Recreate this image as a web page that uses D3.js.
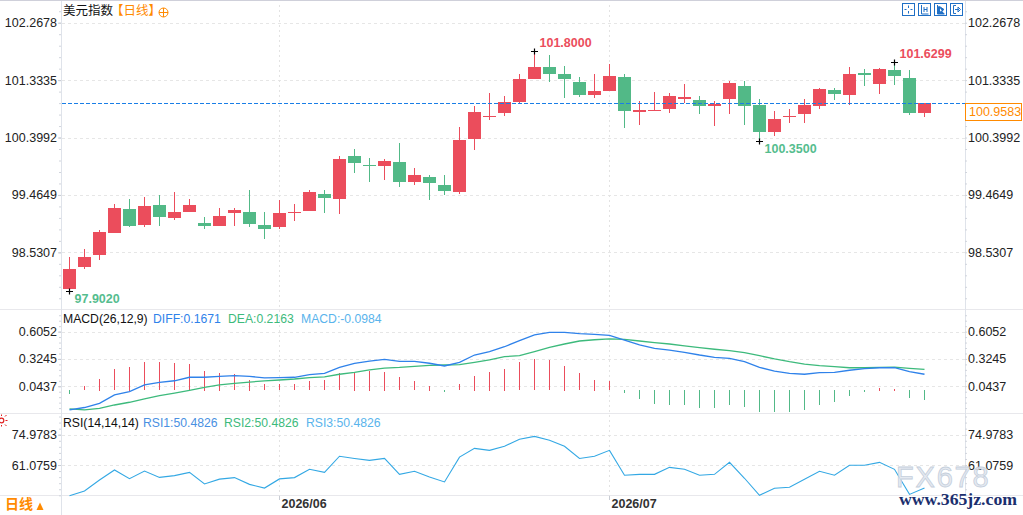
<!DOCTYPE html>
<html><head><meta charset="utf-8">
<script src="https://cdn.jsdelivr.net/npm/d3@7"></script>
<style>body{margin:0;background:#fff;overflow:hidden}svg{display:block}</style>
</head><body>
<svg id="c" width="1023" height="515"></svg>
<script>
// ---------------- data ----------------
const dates = [
"2026-05-12","2026-05-13","2026-05-14","2026-05-15","2026-05-18","2026-05-19","2026-05-20","2026-05-21","2026-05-22","2026-05-25","2026-05-26","2026-05-27","2026-05-28","2026-05-29",
"2026-06-01","2026-06-02","2026-06-03","2026-06-04","2026-06-05","2026-06-08","2026-06-09","2026-06-10","2026-06-11","2026-06-12","2026-06-15","2026-06-16","2026-06-17","2026-06-18","2026-06-19","2026-06-22","2026-06-23","2026-06-24","2026-06-25","2026-06-26","2026-06-29","2026-06-30",
"2026-07-01","2026-07-02","2026-07-03","2026-07-06","2026-07-07","2026-07-08","2026-07-09","2026-07-10","2026-07-13","2026-07-14","2026-07-15","2026-07-16","2026-07-17","2026-07-20","2026-07-21","2026-07-22","2026-07-23","2026-07-24","2026-07-27","2026-07-28","2026-07-29","2026-07-30"];
const open = [97.93,98.29,98.48,98.85,99.236,98.975,99.301,99.09,99.187,99.008,98.959,99.171,99.187,98.975,98.943,99.17,99.203,99.48,99.399,100.099,99.955,99.935,100.001,99.675,99.757,99.626,99.513,100.375,100.733,100.798,100.977,101.352,101.547,101.433,101.303,101.091,101.156,101.384,100.815,100.831,100.863,101.026,101.01,100.912,101.026,101.238,100.929,100.489,100.733,100.782,100.912,101.173,101.091,101.449,101.27,101.498,101.368,100.798];
const high = [98.455,98.585,98.894,99.317,99.399,99.431,99.464,99.513,99.399,99.106,99.252,99.252,99.545,99.187,99.383,99.317,99.545,99.545,100.099,100.212,100.066,100.05,100.31,99.903,99.789,99.789,100.571,100.912,101.124,101.075,101.433,101.8,101.742,101.563,101.384,101.433,101.596,101.433,100.994,101.14,101.124,101.27,101.075,100.994,101.319,101.319,101.026,100.831,100.863,101.026,101.205,101.205,101.547,101.514,101.53,101.6299,101.498,100.965];
const low = [97.902,98.26,98.41,98.85,98.943,98.943,98.959,99.057,99.187,98.91,98.959,98.959,98.943,98.748,98.91,99.041,99.203,99.171,99.155,99.822,99.675,99.708,99.594,99.626,99.383,99.464,99.48,100.196,100.684,100.75,100.961,101.352,101.303,101.043,101.059,101.043,101.156,100.554,100.603,100.831,100.798,100.961,100.782,100.587,100.782,100.603,100.35,100.424,100.635,100.635,100.863,101.01,100.929,101.238,101.108,101.254,100.766,100.733];
const close = [98.26,98.455,98.86,99.247,98.959,99.285,99.106,99.187,99.301,98.959,99.122,99.22,98.992,98.91,99.171,99.187,99.513,99.415,100.05,99.984,99.95,100.017,99.675,99.789,99.659,99.528,100.359,100.815,100.75,100.977,101.352,101.547,101.433,101.352,101.091,101.156,101.4,100.831,100.847,100.847,101.075,101.059,100.912,100.945,101.287,100.912,100.489,100.7,100.75,100.929,101.189,101.108,101.433,101.417,101.514,101.4,100.798,100.9583];
const diff = [-0.2,-0.175,-0.132,-0.046,-0.012,0.057,0.084,0.10,0.136,0.136,0.146,0.152,0.146,0.129,0.132,0.136,0.163,0.177,0.238,0.28,0.303,0.32,0.30,0.30,0.28,0.252,0.29,0.365,0.40,0.45,0.512,0.571,0.598,0.598,0.584,0.578,0.567,0.519,0.468,0.434,0.416,0.393,0.365,0.341,0.331,0.296,0.238,0.20,0.177,0.167,0.183,0.187,0.208,0.224,0.234,0.234,0.193,0.1671];
const dea = [-0.19,-0.2,-0.183,-0.149,-0.121,-0.087,-0.053,-0.026,0.002,0.033,0.057,0.074,0.087,0.098,0.108,0.118,0.132,0.139,0.167,0.187,0.211,0.231,0.238,0.249,0.259,0.262,0.265,0.29,0.314,0.348,0.358,0.40,0.444,0.478,0.509,0.522,0.53,0.526,0.509,0.492,0.478,0.458,0.44,0.424,0.41,0.389,0.358,0.324,0.296,0.272,0.255,0.245,0.234,0.234,0.238,0.241,0.228,0.2163];
const macdHist = [-0.04,0.044,0.12,0.22,0.245,0.29,0.29,0.28,0.27,0.205,0.185,0.165,0.113,0.062,0.062,0.062,0.093,0.103,0.175,0.195,0.205,0.195,0.134,0.093,0.051,-0.02,0.062,0.154,0.195,0.226,0.29,0.32,0.31,0.257,0.175,0.113,0.093,-0.03,-0.09,-0.14,-0.15,-0.15,-0.18,-0.19,-0.15,-0.17,-0.23,-0.23,-0.23,-0.21,-0.15,-0.12,-0.06,-0.02,0.03,0.02,-0.08,-0.0984];
const rsi = [47.0,49.2,54.2,58.8,54.8,58.3,55.4,56.2,57.7,52.4,54.6,55.3,52.2,50.5,54.7,55.3,59.1,57.7,65.1,64.1,63.2,64.1,56.8,58.2,55.6,53.3,64.7,68.7,67.8,69.7,72.9,74.2,72.4,69.7,64.1,65.1,67.8,56.4,56.8,56.8,60.0,59.1,56.4,56.8,62.3,55.0,47.2,50.4,50.9,54.5,58.2,56.4,61.0,61.0,62.3,59.1,47.6,50.4826];
const priceTicks = [98.5307,99.4649,100.3992,101.3335,102.2678];
const macdTicks = [0.0437,0.3245,0.6052];
const rsiTicks = [61.0759,74.9783];
const monthTicks = ["2026-06-01","2026-07-01"];
const monthLabels = ["2026/06","2026/07"];
const lastPrice = 100.9583;
const annots = [{idx:31,kind:"high"},{idx:55,kind:"high"},{idx:46,kind:"low"},{idx:0,kind:"low"}];
const titleName = "美元指数", titlePeriod = "【日线】";
const macdTitle = "MACD(26,12,9)";
const macdLegend = ["DIFF:0.1671","DEA:0.2163","MACD:-0.0984"];
const rsiTitle = "RSI(14,14,14)";
const rsiLegend = ["RSI1:50.4826","RSI2:50.4826","RSI3:50.4826"];

// ---------------- style ----------------
const RED = "#eb4d5c", GREEN = "#52b987";
const BLUE = "#2f82ea", DEAC = "#3dba7c", LBLUE = "#5ab4ec", RSIC = "#33a8e4";
const ORANGE = "#ff8a00";
const NUMF = "'Liberation Sans', Arial, sans-serif";
const CJKF = "'Noto Sans CJK SC', sans-serif";
const AXL = 61, AXR = 966;

const svg = d3.select("#c");
const fmt = d3.format(".4f");

const x = d3.scaleBand().domain(dates).range([62, 932]).paddingInner(2/15).paddingOuter(1/15);
const cx = d => x(d) + x.bandwidth()/2;
const yP = d3.scaleLinear().domain([97.674, 102.556]).range([305, 5]);
const yM = d3.scaleLinear().domain([-0.2314, 0.8071]).range([413, 312]);
const yR = d3.scaleLinear().domain([46.86, 84.48]).range([496, 414]);
const px = v => Math.round(v) + 0.5;

// top border
svg.append("line").attr("x1",0).attr("x2",1023).attr("y1",0.5).attr("y2",0.5).attr("stroke","#cfd0da");
// panel separators
[309.5, 413.5, 495.5].forEach(y => svg.append("line").attr("x1",0).attr("x2",1023).attr("y1",y).attr("y2",y).attr("stroke","#e8e8ec"));
// axis lines
svg.append("line").attr("x1",AXL+0.5).attr("x2",AXL+0.5).attr("y1",1).attr("y2",515).attr("stroke","#dfe3ea");
svg.append("line").attr("x1",AXR-0.5).attr("x2",AXR-0.5).attr("y1",1).attr("y2",496).attr("stroke","#dfe3ea");

// horizontal grids
function hgrid(scale, ticks){
  svg.append("g").selectAll("line").data(ticks).join("line")
    .attr("x1",AXL+1).attr("x2",AXR-1)
    .attr("y1",d=>px(scale(d))).attr("y2",d=>px(scale(d)))
    .attr("stroke","#e6e6e6").attr("stroke-dasharray","3,3");
}
hgrid(yP, priceTicks); hgrid(yM, macdTicks); hgrid(yR, rsiTicks);
// vertical month grids
svg.append("g").selectAll("line").data(monthTicks).join("line")
  .attr("x1",d=>cx(d)).attr("x2",d=>cx(d)).attr("y1",5).attr("y2",496)
  .attr("stroke","#e3e3e3").attr("stroke-dasharray","2,3");

// axes
function yAxes(scale, ticks, lo, hi){
  const step = (ticks[1]-ticks[0])/5;
  const minor = [];
  for (let v = ticks[0]; v >= lo; v -= step) minor.push(v);
  for (let v = ticks[0]+step; v <= hi; v += step) minor.push(v);
  const mL = svg.append("g").attr("transform",`translate(${AXL},0)`)
    .call(d3.axisLeft(scale).tickValues(minor).tickSize(2).tickFormat(""));
  const mR = svg.append("g").attr("transform",`translate(${AXR-1},0)`)
    .call(d3.axisRight(scale).tickValues(minor).tickSize(2).tickFormat(""));
  [mL,mR].forEach(g=>{g.select(".domain").remove(); g.selectAll("line").attr("stroke","#d0d4dc");});
  const aL = svg.append("g").attr("transform",`translate(${AXL},0)`)
    .call(d3.axisLeft(scale).tickValues(ticks).tickFormat(fmt).tickSize(3).tickPadding(1));
  const aR = svg.append("g").attr("transform",`translate(${AXR-1},0)`)
    .call(d3.axisRight(scale).tickValues(ticks).tickFormat(fmt).tickSize(0).tickPadding(3));
  [aL,aR].forEach(g=>{
    g.select(".domain").remove();
    g.selectAll("line").attr("stroke","#c8ccd4");
    g.selectAll("text").attr("font-family",NUMF).attr("font-size","12.5px").attr("fill","#222");
  });
}
yAxes(yP, priceTicks, 97.674, 102.556);
yAxes(yM, macdTicks, -0.2314, 0.8071);
yAxes(yR, rsiTicks, 46.86, 84.48);

// x axis
const xa = svg.append("g").attr("transform","translate(0,496)")
  .call(d3.axisBottom(x).tickValues(monthTicks).tickSize(4).tickFormat((d,i)=>monthLabels[i]));
xa.select(".domain").remove();
xa.selectAll("line").attr("stroke","#c8ccd4");
xa.selectAll("text").attr("font-family",NUMF).attr("font-size","12.5px").attr("font-weight","bold")
  .attr("fill","#333").attr("text-anchor","start").attr("dx","2").attr("y",3).attr("dy","0.71em");

// candles
const cg = svg.append("g");
dates.forEach((d,i)=>{
  const up = close[i] >= open[i];
  const col = up ? RED : GREEN;
  cg.append("line").attr("x1",cx(d)).attr("x2",cx(d))
    .attr("y1",Math.round(yP(high[i]))).attr("y2",Math.round(yP(low[i]))).attr("stroke",col);
  const yt = Math.round(yP(Math.max(open[i],close[i])));
  const yb = Math.round(yP(Math.min(open[i],close[i])));
  cg.append("rect").attr("x",x(d)).attr("width",x.bandwidth())
    .attr("y",yt).attr("height",Math.max(1,yb-yt)).attr("fill",col);
});

// last price line + box
const yl = px(yP(lastPrice));
svg.append("line").attr("x1",AXL+1).attr("x2",AXR-1).attr("y1",yl).attr("y2",yl)
  .attr("stroke","#1a7ee6").attr("stroke-dasharray","4,2");
svg.append("rect").attr("x",AXR-0.5).attr("y",yl).attr("width",56).attr("height",17)
  .attr("fill","#fff").attr("stroke",ORANGE);
svg.append("text").attr("x",AXR+3).attr("y",yl+9).attr("dominant-baseline","middle")
  .attr("font-family",NUMF).attr("font-size","12.5px").attr("fill",ORANGE).text(fmt(lastPrice));

// annotations
annots.forEach(a=>{
  const d = dates[a.idx];
  const v = a.kind==="high" ? high[a.idx] : low[a.idx];
  const X = cx(d), Y = Math.round(yP(v)) + 0.5;
  svg.append("path").attr("d",`M${X-3.5},${Y}H${X+3.5}M${X},${Y-3}V${Y+3}`).attr("stroke","#000").attr("stroke-width",1.2);
  svg.append("text").attr("x",X+5).attr("y",a.kind==="high"?Y-8:Y+8).attr("dominant-baseline","middle")
    .attr("font-family",NUMF).attr("font-size","12.5px").attr("font-weight","bold")
    .attr("fill",a.kind==="high"?RED:"#55bd8e").text(fmt(v));
});

// MACD histogram & lines
const z = yM(0);
svg.append("g").selectAll("rect").data(dates).join("rect")
  .attr("x",d=>cx(d)-0.5).attr("width",1)
  .attr("y",(d,i)=>Math.round(Math.min(z,yM(macdHist[i]))))
  .attr("height",(d,i)=>Math.max(1,Math.round(Math.abs(yM(macdHist[i])-z))))
  .attr("fill",(d,i)=>macdHist[i]>=0?RED:GREEN);
const lineM = arr => d3.line().x((d,i)=>cx(dates[i])).y(d=>yM(d))(arr);
svg.append("path").attr("d",lineM(dea)).attr("fill","none").attr("stroke",DEAC).attr("stroke-width",1.3);
svg.append("path").attr("d",lineM(diff)).attr("fill","none").attr("stroke",BLUE).attr("stroke-width",1.3);

// RSI line
svg.append("path").attr("d",d3.line().x((d,i)=>cx(dates[i])).y(d=>yR(d))(rsi))
  .attr("fill","none").attr("stroke",RSIC).attr("stroke-width",1.1);

// titles
function txt(xp, yp, s, col, font, size, weight){
  return svg.append("text").attr("x",xp).attr("y",yp).attr("dominant-baseline","middle")
    .attr("font-family",font).attr("font-size",size).attr("font-weight",weight||"normal").attr("fill",col).text(s);
}
txt(63,12,titleName,"#111",CJKF,"12.5px");
txt(111,12,titlePeriod,ORANGE,CJKF,"12.5px");
svg.append("circle").attr("cx",163.5).attr("cy",12.5).attr("r",4.5).attr("fill","none").attr("stroke",ORANGE);
svg.append("path").attr("d","M159,12.5H168M163.5,8V17").attr("stroke",ORANGE);

const LF = "12.2px";
txt(63,320,macdTitle,"#111",NUMF,LF);
[[153,BLUE],[228,DEAC],[301,LBLUE]].forEach((p,i)=>txt(p[0],320,macdLegend[i],p[1],NUMF,LF));
txt(63,424,rsiTitle,"#111",NUMF,LF);
[[143,"#4a90e2"],[224,DEAC],[306,LBLUE]].forEach((p,i)=>txt(p[0],424,rsiLegend[i],p[1],NUMF,LF));

// toolbar icons
const ic = svg.append("g").attr("fill","none").attr("stroke","#1f6fc5");
[902,918,934,950].forEach((xx,k)=>{
  ic.append("rect").attr("x",xx+0.5).attr("y",3.5).attr("width",12).attr("height",12);
  const c = xx+6.5;
  if(k===0) ic.append("path").attr("d",`M${c},5.5V8M${c},11V13.5M${xx+2.5},9.5H${c-2}M${c+2},9.5H${xx+10.5}`);
  if(k===1) ic.append("path").attr("d",`M${xx+3.5},5V14H${xx+10.5}M${xx+6},7V12M${xx+9},7V12M${xx+6},9.5H${xx+9}`);
  if(k===2) ic.append("path").attr("d",`M${xx+3.5},5V14H${xx+10.5}M${xx+5.5},6.5L${xx+10},9.5L${xx+5.5},12.5Z`).attr("fill","#1f6fc5");
  if(k===3) ic.append("path").attr("d",`M${xx+6},5.5H${xx+3.5}V13.5H${xx+6}M${xx+5},9.5H${xx+9}M${xx+8},7L${xx+10.5},9.5L${xx+8},12Z`).attr("fill","none");
});

// bottom-left period label
txt(5,505,"日线",ORANGE,CJKF,"14px","bold");
svg.append("path").attr("d","M36.5,510L40,502.5L43.5,510Z").attr("fill",ORANGE);
// small red icon
svg.append("circle").attr("cx",1.5).attr("cy",420.5).attr("r",2.3).attr("fill","none").attr("stroke","#e02020").attr("stroke-width",1.2);
svg.append("path").attr("d","M5,416.5L6.5,415M5,424.5L6.5,426M5.5,420.5H7.5M1.5,416V414.5M1.5,425V426.5").attr("stroke","#e02020");

// watermark
svg.append("text").attr("x",896).attr("y",487).attr("font-family",NUMF).attr("font-size","29px")
  .attr("letter-spacing","1.8").attr("fill","#e1e7ef").attr("stroke","#c5cfdc").attr("stroke-width",0.8)
  .attr("fill-opacity",0.85).text("FX678");
svg.append("text").attr("x",899).attr("y",505).attr("font-family","'Liberation Serif','DejaVu Serif',serif")
  .attr("font-size","16px").attr("font-weight","bold").attr("fill","#1b2f6e")
  .attr("textLength",118).attr("lengthAdjust","spacingAndGlyphs").text("www.365jz.com");
</script>
</body></html>
